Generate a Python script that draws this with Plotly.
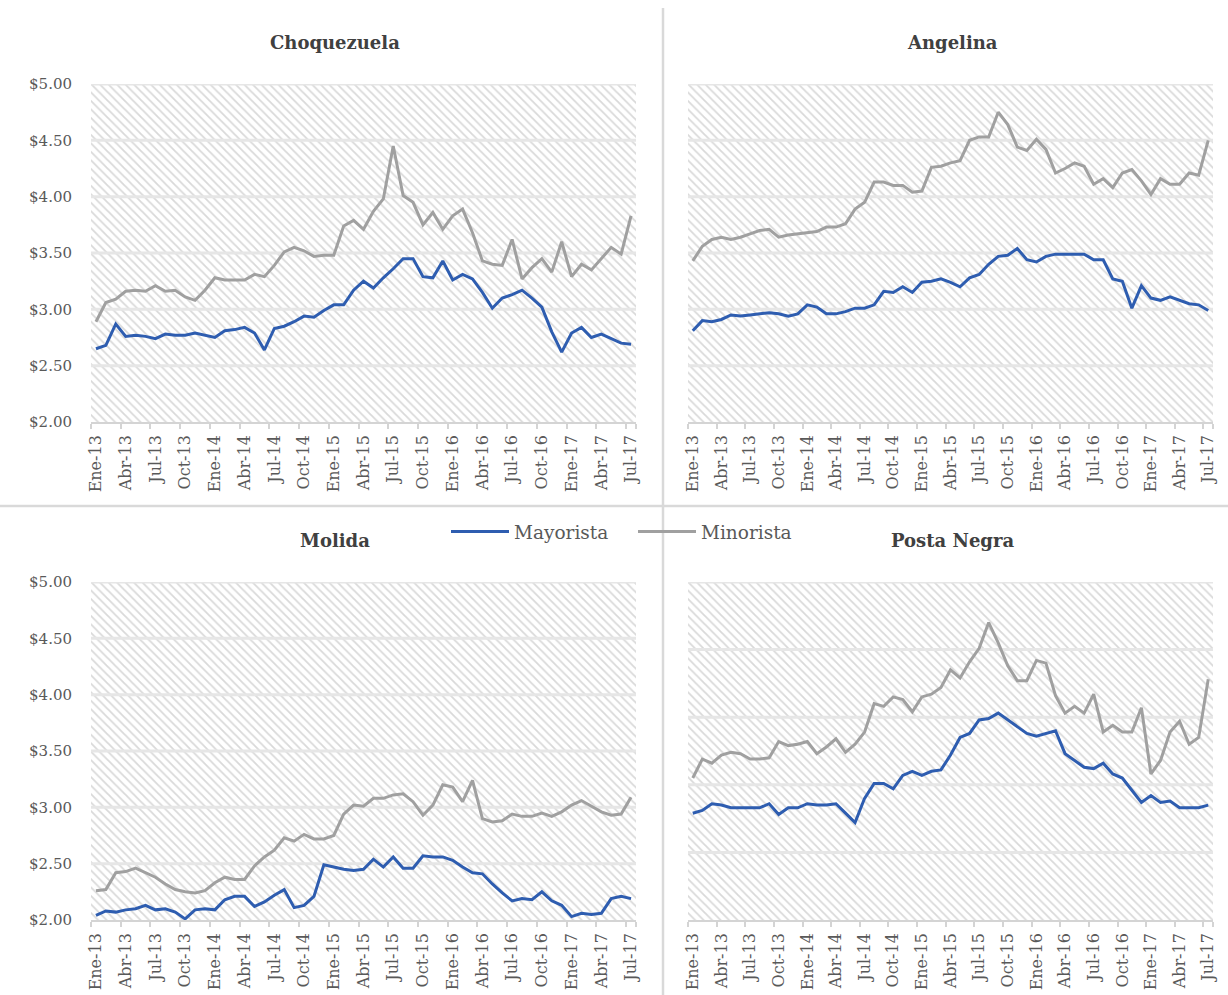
import plotly.graph_objects as go

# ---------------- data ----------------
months_es = ["Ene", "Feb", "Mar", "Abr", "May", "Jun", "Jul", "Ago", "Sep", "Oct", "Nov", "Dic"]
years = ["13", "14", "15", "16", "17"]
periods = [f"{m}-{y}" for y in years for m in months_es][:55]   # Ene-13 .. Jul-17

tick_labels = ["Ene-13", "Abr-13", "Jul-13", "Oct-13", "Ene-14", "Abr-14", "Jul-14", "Oct-14",
               "Ene-15", "Abr-15", "Jul-15", "Oct-15", "Ene-16", "Abr-16", "Jul-16", "Oct-16",
               "Ene-17", "Abr-17", "Jul-17"]
y_ticks = [2.0, 2.5, 3.0, 3.5, 4.0, 4.5, 5.0]
y_tick_text = ["$2.00", "$2.50", "$3.00", "$3.50", "$4.00", "$4.50", "$5.00"]
y_ticks_posta = [2.0, 2.5, 3.0, 3.5, 4.0, 4.5]

choq_may = [2.65, 2.68, 2.87, 2.76, 2.77, 2.76, 2.74, 2.78, 2.77, 2.77,
            2.79, 2.77, 2.75, 2.81, 2.82, 2.84, 2.79, 2.64, 2.83, 2.85,
            2.89, 2.94, 2.93, 2.99, 3.04, 3.04, 3.17, 3.25, 3.19, 3.28,
            3.36, 3.45, 3.45, 3.29, 3.28, 3.43, 3.26, 3.31, 3.27, 3.15,
            3.01, 3.10, 3.13, 3.17, 3.10, 3.02, 2.80, 2.62, 2.79, 2.84,
            2.75, 2.78, 2.74, 2.70, 2.69]
choq_min = [2.89, 3.06, 3.09, 3.16, 3.17, 3.16, 3.21, 3.16, 3.17, 3.11,
            3.08, 3.17, 3.28, 3.26, 3.26, 3.26, 3.31, 3.29, 3.39, 3.51,
            3.55, 3.52, 3.47, 3.48, 3.48, 3.74, 3.79, 3.71, 3.87, 3.98,
            4.45, 4.01, 3.95, 3.75, 3.86, 3.71, 3.83, 3.89, 3.68, 3.43,
            3.40, 3.39, 3.62, 3.27, 3.37, 3.45, 3.33, 3.60, 3.29, 3.40,
            3.35, 3.45, 3.55, 3.49, 3.83]

ang_may = [2.81, 2.90, 2.89, 2.91, 2.95, 2.94, 2.95, 2.96, 2.97, 2.96,
           2.94, 2.96, 3.04, 3.02, 2.96, 2.96, 2.98, 3.01, 3.01, 3.04,
           3.16, 3.15, 3.20, 3.15, 3.24, 3.25, 3.27, 3.24, 3.20, 3.28,
           3.31, 3.40, 3.47, 3.48, 3.54, 3.44, 3.42, 3.47, 3.49, 3.49,
           3.49, 3.49, 3.44, 3.44, 3.27, 3.25, 3.01, 3.21, 3.10, 3.08,
           3.11, 3.08, 3.05, 3.04, 2.99]
ang_min = [3.43, 3.56, 3.62, 3.64, 3.62, 3.64, 3.67, 3.70, 3.71, 3.64,
           3.66, 3.67, 3.68, 3.69, 3.73, 3.73, 3.76, 3.89, 3.95, 4.13,
           4.13, 4.10, 4.10, 4.04, 4.05, 4.26, 4.27, 4.30, 4.32, 4.50,
           4.53, 4.53, 4.75, 4.64, 4.44, 4.41, 4.51, 4.42, 4.21, 4.25,
           4.30, 4.27, 4.11, 4.16, 4.08, 4.21, 4.24, 4.14, 4.02, 4.16,
           4.11, 4.11, 4.21, 4.19, 4.50]

mol_may = [2.04, 2.08, 2.07, 2.09, 2.10, 2.13, 2.09, 2.10, 2.07, 2.01,
           2.09, 2.10, 2.09, 2.18, 2.21, 2.21, 2.12, 2.16, 2.22, 2.27,
           2.11, 2.13, 2.21, 2.49, 2.47, 2.45, 2.44, 2.45, 2.54, 2.47,
           2.56, 2.46, 2.46, 2.57, 2.56, 2.56, 2.53, 2.47, 2.42, 2.41,
           2.32, 2.24, 2.17, 2.19, 2.18, 2.25, 2.17, 2.13, 2.03, 2.06,
           2.05, 2.06, 2.19, 2.21, 2.19]
mol_min = [2.26, 2.27, 2.42, 2.43, 2.46, 2.42, 2.38, 2.32, 2.27, 2.25,
           2.24, 2.26, 2.33, 2.38, 2.36, 2.36, 2.48, 2.56, 2.62, 2.73,
           2.70, 2.76, 2.72, 2.72, 2.75, 2.94, 3.02, 3.01, 3.08, 3.08,
           3.11, 3.12, 3.05, 2.93, 3.02, 3.20, 3.18, 3.05, 3.24, 2.90,
           2.87, 2.88, 2.94, 2.92, 2.92, 2.95, 2.92, 2.96, 3.02, 3.06,
           3.01, 2.96, 2.93, 2.94, 3.09]

posta_may = [2.79, 2.81, 2.86, 2.85, 2.83, 2.83, 2.83, 2.83, 2.86, 2.78,
             2.83, 2.83, 2.86, 2.85, 2.85, 2.86, 2.79, 2.72, 2.90, 3.01,
             3.01, 2.97, 3.07, 3.10, 3.07, 3.10, 3.11, 3.22, 3.35, 3.38,
             3.48, 3.49, 3.53, 3.48, 3.43, 3.38, 3.36, 3.38, 3.40, 3.23,
             3.18, 3.13, 3.12, 3.16, 3.08, 3.05, 2.96, 2.87, 2.92, 2.87,
             2.88, 2.83, 2.83, 2.83, 2.85]
posta_min = [3.05, 3.19, 3.16, 3.22, 3.24, 3.23, 3.19, 3.19, 3.20, 3.32,
             3.29, 3.30, 3.32, 3.23, 3.28, 3.34, 3.24, 3.30, 3.39, 3.60,
             3.58, 3.65, 3.63, 3.54, 3.65, 3.67, 3.72, 3.85, 3.79, 3.91,
             4.01, 4.20, 4.05, 3.88, 3.77, 3.77, 3.92, 3.90, 3.66, 3.53,
             3.58, 3.53, 3.67, 3.39, 3.44, 3.39, 3.39, 3.57, 3.08, 3.18,
             3.39, 3.47, 3.30, 3.35, 3.78]

panels = [
    ("Choquezuela", choq_may, choq_min, y_ticks, True),
    ("Angelina", ang_may, ang_min, y_ticks, False),
    ("Molida", mol_may, mol_min, y_ticks, True),
    ("Posta Negra", posta_may, posta_min, y_ticks_posta, False),
]

# ---------------- style ----------------
W, H = 1228, 995
FONT = "DejaVu Serif"
BLUE = "#2E5DB0"
GREY = "#A0A0A0"
TXT = "#595959"
x_dom = [(91 / W, 636 / W), (688 / W, 1213 / W)]
y_dom = [(1 - 422 / H, 1 - 84 / H), (1 - 920 / H, 1 - 582 / H)]
title_x = [335 / W, 952 / W]

n = len(periods)
xs = list(range(n))
x_lo, x_hi = -0.5, n - 0.5
tick_pos = [periods.index(t) for t in tick_labels]
minor_pos = [p - 0.5 for p in tick_pos] + [x_hi]

fig = go.Figure()
layout = {}
annotations = []

for k, (name, may, mino, yt, show_y) in enumerate(panels):
    r, c = divmod(k, 2)
    ax = "" if k == 0 else str(k + 1)
    xa, ya = "x" + ax, "y" + ax
    top = yt[-1]

    # hatched background
    fig.add_trace(go.Scatter(
        x=[x_lo, x_hi], y=[top, top], xaxis=xa, yaxis=ya, mode="none",
        fill="tozeroy", fillcolor="white",
        fillpattern=dict(shape="\\", fgcolor="#b4b4b4", bgcolor="white", size=6, solidity=0.3),
        hoverinfo="skip", showlegend=False))
    # gridlines (from tick values)
    for v in yt[1:]:
        fig.add_trace(go.Scatter(
            x=[x_lo, x_hi], y=[v, v], xaxis=xa, yaxis=ya, mode="lines",
            line=dict(color="#e6e6e6", width=3), hoverinfo="skip", showlegend=False))
    # data
    fig.add_trace(go.Scatter(x=xs, y=may, xaxis=xa, yaxis=ya, mode="lines", name="Mayorista",
                             line=dict(color=BLUE, width=3), showlegend=(k == 0)))
    fig.add_trace(go.Scatter(x=xs, y=mino, xaxis=xa, yaxis=ya, mode="lines", name="Minorista",
                             line=dict(color=GREY, width=3), showlegend=(k == 0)))

    layout["xaxis" + ax] = dict(
        domain=list(x_dom[c]), anchor=ya, range=[x_lo, x_hi], automargin=False,
        tickmode="array", tickvals=tick_pos, ticktext=tick_labels, tickangle=-90,
        ticks="", showgrid=False, zeroline=False,
        showline=True, linecolor="#d4d4d4", linewidth=1.5,
        tickfont=dict(family=FONT, size=16, color=TXT),
        minor=dict(tickmode="array", tickvals=minor_pos, ticks="outside", ticklen=5,
                   tickcolor="#d4d4d4", tickwidth=1.5, showgrid=False),
        ticklabelstandoff=5,
    )
    layout["yaxis" + ax] = dict(
        domain=list(y_dom[r]), anchor=xa, range=[yt[0], yt[-1]], automargin=False,
        tickmode="array", tickvals=yt,
        ticktext=(y_tick_text[:len(yt)] if show_y else [""] * len(yt)),
        showticklabels=show_y, showgrid=False, zeroline=False, showline=False, ticks="",
        tickfont=dict(family=FONT, size=15, color=TXT), ticklabelstandoff=18,
    )
    annotations.append(dict(
        text=f"<b>{name}</b>", x=title_x[c], y=1 - (42 if r == 0 else 540) / H,
        xref="paper", yref="paper", showarrow=False, xanchor="center", yanchor="middle",
        font=dict(family=FONT, size=18, color="#404040")))

shapes = [
    dict(type="line", xref="paper", yref="paper", x0=663 / W, x1=663 / W, y0=0, y1=1 - 8 / H,
         line=dict(color="#d9d9d9", width=2.5)),
    dict(type="line", xref="paper", yref="paper", x0=0, x1=1, y0=1 - 506 / H, y1=1 - 506 / H,
         line=dict(color="#d9d9d9", width=2.5)),
]

fig.update_layout(
    width=W, height=H, margin=dict(l=0, r=0, t=0, b=0, autoexpand=False),
    paper_bgcolor="white", plot_bgcolor="white",
    annotations=annotations, shapes=shapes,
    legend=dict(orientation="h", x=633 / W, y=1 - 532 / H, xanchor="center", yanchor="middle",
                font=dict(family=FONT, size=18.5, color=TXT), bgcolor="rgba(255,255,255,0)",
                itemwidth=58, entrywidth=114, entrywidthmode="pixels"),
    **layout,
)

fig.write_html("out.html", config={"displayModeBar": False},
               post_script="document.body.style.margin='0px';document.body.style.overflow='hidden';")
